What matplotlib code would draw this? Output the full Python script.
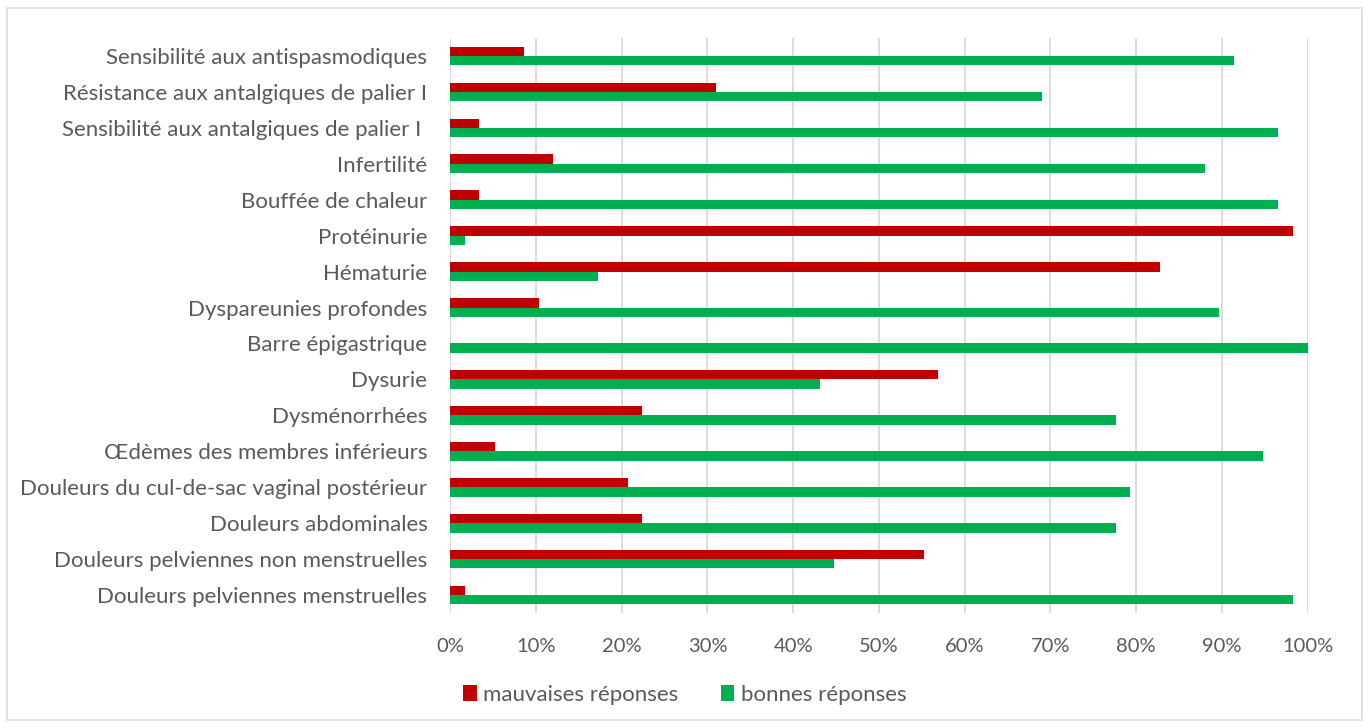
import matplotlib
matplotlib.use("Agg")
import matplotlib.pyplot as plt
from matplotlib.patches import Rectangle
from matplotlib.ticker import FuncFormatter, MultipleLocator
import numpy as np

plt.rcParams['font.family'] = ['Lato', 'DejaVu Sans']

categories = [
    "Sensibilité aux antispasmodiques",
    "Résistance aux antalgiques de palier I",
    "Sensibilité aux antalgiques de palier I ",
    "Infertilité",
    "Bouffée de chaleur",
    "Protéinurie",
    "Hématurie",
    "Dyspareunies profondes",
    "Barre épigastrique",
    "Dysurie",
    "Dysménorrhées",
    "Œdèmes des membres inférieurs",
    "Douleurs du cul-de-sac vaginal postérieur",
    "Douleurs abdominales",
    "Douleurs pelviennes non menstruelles",
    "Douleurs pelviennes menstruelles",
]
mauvaises = [8.6, 31.0, 3.4, 12.0, 3.4, 98.3, 82.8, 10.3, 0.0, 56.9, 22.4, 5.2, 20.7, 22.4, 55.2, 1.7]
bonnes = [91.4, 69.0, 96.6, 88.0, 96.6, 1.7, 17.2, 89.7, 100.0, 43.1, 77.6, 94.8, 79.3, 77.6, 44.8, 98.3]
series_labels = ["mauvaises réponses", "bonnes réponses"]

RED = "#C00000"
GREEN = "#00B050"
TEXT = "#595959"
GRID = "#D9D9D9"

fig = plt.figure(figsize=(13.7, 7.28), dpi=100)
fig.patches.append(Rectangle((7 / 1370, 8 / 728), 1355 / 1370, 712 / 728,
                             transform=fig.transFigure, fill=False,
                             edgecolor=GRID, linewidth=1.2))

ax = fig.add_axes([450.3 / 1370, (728 - 613) / 728, 857.3 / 1370, 575 / 728])

y = np.arange(len(categories))
h = 0.26
ax.barh(y - h / 2, mauvaises, height=h, color=RED, label=series_labels[0], zorder=3)
ax.barh(y + h / 2, bonnes, height=h, color=GREEN, label=series_labels[1], zorder=3)

ax.set_xlim(0, 100)
ax.set_ylim(len(categories) - 0.5, -0.5)
ax.xaxis.set_major_locator(MultipleLocator(10))
ax.xaxis.set_major_formatter(FuncFormatter(lambda v, p: f"{v:.0f}%"))
ax.set_yticks(y)
ax.set_yticklabels(categories)
ax.grid(axis="x", color=GRID, linewidth=1.3, zorder=0)
for s in ax.spines.values():
    s.set_visible(False)
ax.tick_params(axis="both", length=0, colors=TEXT)
ax.tick_params(axis="y", pad=16.5, labelsize=16)
ax.tick_params(axis="x", pad=18, labelsize=14.5)

fig.legend(loc="center", bbox_to_anchor=(0.5, 1 - 695 / 728), ncol=2, frameon=False,
           fontsize=16, labelcolor=TEXT, handlelength=0.6, handleheight=0.75,
           handletextpad=0.3, columnspacing=1.9)

fig.savefig("out.png", dpi=100, facecolor="white")
